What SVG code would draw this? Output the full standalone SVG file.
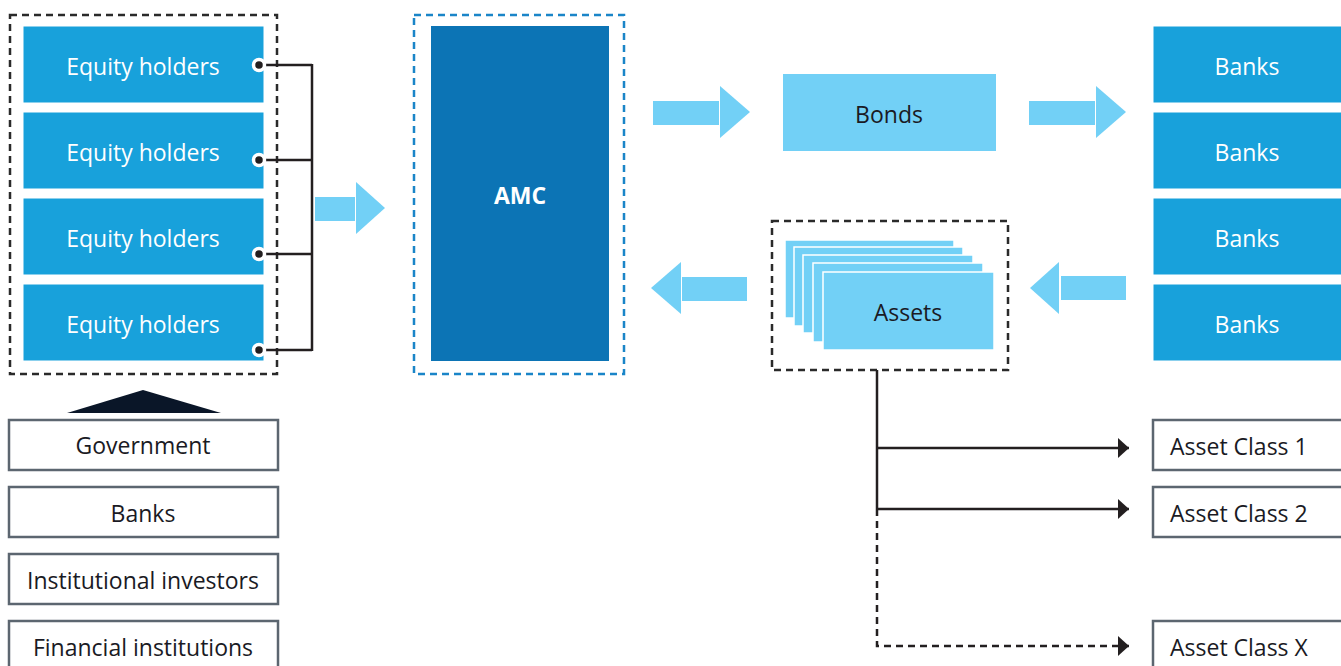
<svg xmlns="http://www.w3.org/2000/svg" width="1341" height="666" viewBox="0 0 1341 666">
  <style>
    .lbl { font-family: "Open Sans", "Liberation Sans", sans-serif; font-size: 23px; text-anchor: middle; }
    .lbl.start { text-anchor: start; }
    .w { fill: #ffffff; }
    .d { fill: #1a1a24; }
    .eq { fill: #18a1db; stroke: #ffffff; stroke-width: 1; }
    .lt { fill: #72d0f6; }
    .out { fill: #ffffff; stroke: #5c6670; stroke-width: 2.5; }
    .dash { fill: none; stroke: #2a2a2a; stroke-width: 2.5; stroke-dasharray: 7 5; }
    .ln { fill: none; stroke: #231f20; stroke-width: 2.5; }
    .stk { fill: #72d0f6; stroke: #ffffff; stroke-width: 1.5; }
  </style>
  <defs>
    <marker id="tri" markerWidth="11" markerHeight="20" refX="11" refY="10" orient="auto" markerUnits="userSpaceOnUse">
      <path d="M0,0 L11,10 L0,20 Z" fill="#231f20"/>
    </marker>
  </defs>
  <rect width="1341" height="666" fill="#ffffff"/>

  <!-- equity holders group -->
  <g id="equity">
    <rect class="dash" x="10" y="15" width="267" height="359"/>
    <g id="eq1"><rect class="eq" x="23" y="26" width="241" height="77"/><text class="lbl w" x="143" y="75">Equity holders</text></g>
    <g id="eq2"><rect class="eq" x="23" y="112" width="241" height="77"/><text class="lbl w" x="143" y="161">Equity holders</text></g>
    <g id="eq3"><rect class="eq" x="23" y="198" width="241" height="77"/><text class="lbl w" x="143" y="247">Equity holders</text></g>
    <g id="eq4"><rect class="eq" x="23" y="284" width="241" height="77"/><text class="lbl w" x="143" y="333">Equity holders</text></g>
  </g>

  <!-- investor sources -->
  <g id="sources">
    <polygon points="67,413 143,390 221,413" fill="#0a1628"/>
    <g id="gov"><rect class="out" x="9" y="420" width="269" height="50"/><text class="lbl d" x="143" y="454">Government</text></g>
    <g id="banksSrc"><rect class="out" x="9" y="487" width="269" height="50"/><text class="lbl d" x="143" y="522">Banks</text></g>
    <g id="inst"><rect class="out" x="9" y="554" width="269" height="50"/><text class="lbl d" x="143" y="589">Institutional investors</text></g>
    <g id="fin"><rect class="out" x="9" y="621" width="269" height="50"/><text class="lbl d" x="143" y="656">Financial institutions</text></g>
  </g>

  <!-- AMC -->
  <g id="amc">
    <rect x="414" y="15" width="210" height="359" fill="none" stroke="#1a85c8" stroke-width="2.5" stroke-dasharray="7 5"/>
    <rect x="431" y="26" width="178" height="335" fill="#0c74b5"/>
    <text class="lbl w" x="520" y="204" font-weight="bold">AMC</text>
  </g>

  <!-- Bonds -->
  <g id="bonds">
    <rect class="lt" x="783" y="74" width="213" height="77"/>
    <text class="lbl d" x="889" y="123">Bonds</text>
  </g>

  <!-- Banks -->
  <g id="banks">
    <g id="bk1"><rect class="eq" x="1153" y="26" width="200" height="77"/><text class="lbl w" x="1247" y="75">Banks</text></g>
    <g id="bk2"><rect class="eq" x="1153" y="112" width="200" height="77"/><text class="lbl w" x="1247" y="161">Banks</text></g>
    <g id="bk3"><rect class="eq" x="1153" y="198" width="200" height="77"/><text class="lbl w" x="1247" y="247">Banks</text></g>
    <g id="bk4"><rect class="eq" x="1153" y="284" width="200" height="77"/><text class="lbl w" x="1247" y="333">Banks</text></g>
  </g>

  <!-- Assets stack -->
  <g id="assets">
    <rect class="dash" x="772" y="221" width="236" height="149"/>
    <rect class="stk" x="785" y="240" width="169" height="78"/>
    <rect class="stk" x="794" y="247" width="169" height="79"/>
    <rect class="stk" x="803" y="255" width="170" height="78"/>
    <rect class="stk" x="813" y="263" width="170" height="79"/>
    <rect class="stk" x="823" y="272" width="171" height="78"/>
    <text class="lbl d" x="908" y="321">Assets</text>
  </g>

  <!-- Asset classes -->
  <g id="ac1"><rect class="out" x="1153" y="420" width="200" height="50"/><text class="lbl start d" x="1170" y="455">Asset Class 1</text></g>
  <g id="ac2"><rect class="out" x="1153" y="487" width="200" height="50"/><text class="lbl start d" x="1170" y="522">Asset Class 2</text></g>
  <g id="acx"><rect class="out" x="1153" y="621" width="200" height="50"/><text class="lbl start d" x="1170" y="656">Asset Class X</text></g>

  <!-- connectors -->
  <g id="connectors">
    <!-- block arrows -->
    <rect class="lt" x="315" y="197" width="40" height="24"/>
    <polygon class="lt" points="356,182 385,208 356,234"/>
    <rect class="lt" x="653" y="101" width="66" height="24"/>
    <polygon class="lt" points="720,86 750,112 720,138"/>
    <rect class="lt" x="1029" y="101" width="66" height="24"/>
    <polygon class="lt" points="1096,86 1126,112 1096,138"/>
    <rect class="lt" x="1061" y="276" width="65" height="24"/>
    <polygon class="lt" points="1059,262 1030,288 1059,314"/>
    <rect class="lt" x="682" y="277" width="65" height="24"/>
    <polygon class="lt" points="681,262 651,288 681,314"/>

    <!-- equity holder bus -->
    <path class="ln" d="M259,65 H312 M259,160 H312 M259,254 H312 M259,350 H312 M312,64 V351"/>
    <g fill="#231f20" stroke="#ffffff" stroke-width="3.5">
      <circle cx="259" cy="65" r="5.5"/>
      <circle cx="259" cy="160" r="5.5"/>
      <circle cx="259" cy="254" r="5.5"/>
      <circle cx="259" cy="350" r="5.5"/>
    </g>

    <!-- asset class branches -->
    <path class="ln" d="M877,370 V509"/>
    <path class="ln" d="M877,448 H1129" marker-end="url(#tri)"/>
    <path class="ln" d="M877,509 H1129" marker-end="url(#tri)"/>
    <path class="ln" d="M877,509 V646 H1129" stroke-dasharray="7 5" marker-end="url(#tri)"/>
  </g>
</svg>
